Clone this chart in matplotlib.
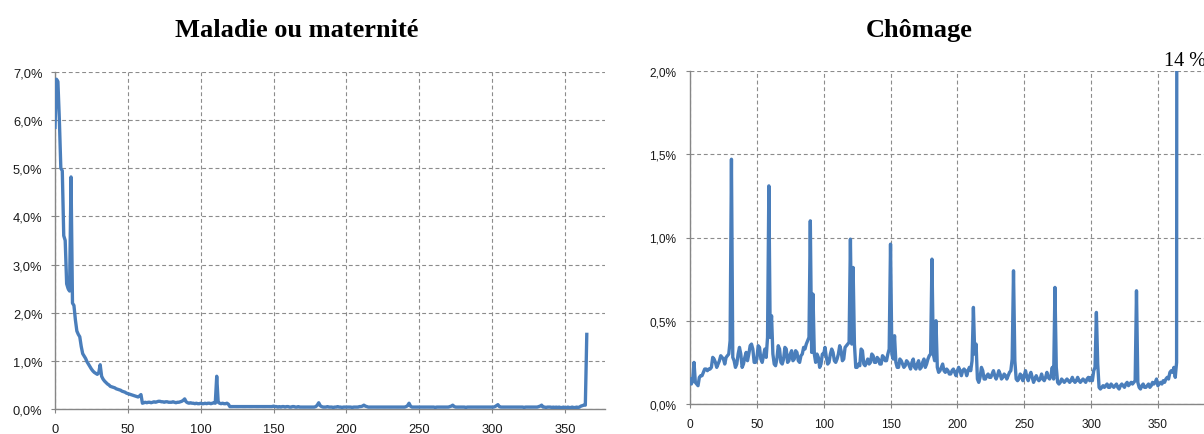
import matplotlib
matplotlib.use("Agg")
import matplotlib.pyplot as plt
from matplotlib.ticker import FuncFormatter

# ---------------- data (daily rates, %) ----------------
titles = ["Maladie ou maternité", "Chômage"]
annot_text = "14 %"

maladie = [
    5.85, 6.85, 6.8, 6.0, 5.0, 4.95, 3.6, 3.5, 2.6, 2.5,
    2.45, 4.82, 2.2, 2.15, 1.85, 1.62, 1.55, 1.5, 1.3, 1.15,
    1.1, 1.05, 0.98, 0.93, 0.88, 0.83, 0.79, 0.76, 0.74, 0.72,
    0.75, 0.92, 0.68, 0.62, 0.58, 0.55, 0.52, 0.5, 0.47, 0.46,
    0.45, 0.44, 0.42, 0.41, 0.4, 0.39, 0.37, 0.36, 0.35, 0.33,
    0.32, 0.31, 0.3, 0.29, 0.28, 0.27, 0.26, 0.25, 0.27, 0.3,
    0.12, 0.13, 0.14, 0.13, 0.14, 0.14, 0.13, 0.14, 0.15, 0.14,
    0.15, 0.16, 0.16, 0.15, 0.15, 0.14, 0.15, 0.15, 0.14, 0.14,
    0.14, 0.15, 0.14, 0.13, 0.14, 0.14, 0.15, 0.16, 0.18, 0.21,
    0.15, 0.13, 0.12, 0.13, 0.12, 0.12, 0.11, 0.12, 0.11, 0.11,
    0.12, 0.11, 0.11, 0.12, 0.11, 0.12, 0.12, 0.11, 0.12, 0.13,
    0.12, 0.68, 0.14, 0.12, 0.11, 0.12, 0.11, 0.11, 0.12, 0.1,
    0.05, 0.05, 0.05, 0.05, 0.05, 0.05, 0.05, 0.05, 0.05, 0.05,
    0.05, 0.05, 0.05, 0.05, 0.05, 0.05, 0.05, 0.05, 0.05, 0.05,
    0.05, 0.05, 0.05, 0.05, 0.05, 0.05, 0.05, 0.05, 0.05, 0.05,
    0.06, 0.05, 0.05, 0.04, 0.05, 0.04, 0.05, 0.05, 0.04, 0.05,
    0.05, 0.04, 0.04, 0.05, 0.05, 0.04, 0.04, 0.05, 0.04, 0.04,
    0.04, 0.04, 0.04, 0.04, 0.04, 0.04, 0.04, 0.04, 0.04, 0.05,
    0.08, 0.13, 0.07, 0.05, 0.04, 0.04, 0.04, 0.05, 0.04, 0.04,
    0.04, 0.03, 0.04, 0.04, 0.05, 0.04, 0.04, 0.03, 0.04, 0.04,
    0.04, 0.04, 0.04, 0.04, 0.03, 0.04, 0.04, 0.04, 0.04, 0.05,
    0.05, 0.06, 0.08, 0.06, 0.05, 0.04, 0.04, 0.04, 0.04, 0.04,
    0.04, 0.04, 0.04, 0.04, 0.04, 0.04, 0.04, 0.04, 0.04, 0.04,
    0.04, 0.04, 0.04, 0.04, 0.04, 0.04, 0.04, 0.04, 0.04, 0.04,
    0.04, 0.05, 0.07, 0.12, 0.06, 0.04, 0.04, 0.04, 0.04, 0.04,
    0.04, 0.04, 0.04, 0.04, 0.04, 0.04, 0.04, 0.04, 0.04, 0.04,
    0.04, 0.03, 0.04, 0.04, 0.04, 0.04, 0.04, 0.04, 0.04, 0.04,
    0.04, 0.05, 0.06, 0.08, 0.05, 0.04, 0.04, 0.04, 0.04, 0.04,
    0.04, 0.04, 0.03, 0.04, 0.04, 0.04, 0.04, 0.04, 0.04, 0.04,
    0.04, 0.04, 0.04, 0.04, 0.04, 0.04, 0.04, 0.04, 0.04, 0.04,
    0.04, 0.04, 0.05, 0.07, 0.09, 0.05, 0.04, 0.04, 0.04, 0.04,
    0.04, 0.04, 0.04, 0.04, 0.04, 0.04, 0.04, 0.04, 0.04, 0.04,
    0.04, 0.04, 0.03, 0.04, 0.04, 0.04, 0.04, 0.04, 0.04, 0.04,
    0.04, 0.04, 0.05, 0.06, 0.08, 0.04, 0.04, 0.03, 0.04, 0.04,
    0.04, 0.03, 0.04, 0.03, 0.04, 0.03, 0.04, 0.03, 0.03, 0.04,
    0.03, 0.03, 0.04, 0.03, 0.03, 0.04, 0.03, 0.03, 0.04, 0.03,
    0.04, 0.06, 0.07, 0.08, 0.08, 1.55,
]

chomage = [
    0.15, 0.12, 0.14, 0.25, 0.13, 0.12, 0.11, 0.16, 0.17, 0.17,
    0.19, 0.21, 0.21, 0.2, 0.21, 0.21, 0.22, 0.28, 0.27, 0.25,
    0.22, 0.24, 0.26, 0.29, 0.28, 0.27, 0.24, 0.28, 0.29, 0.3,
    0.38, 1.47, 0.28, 0.26, 0.22, 0.24, 0.3, 0.34, 0.3, 0.22,
    0.24, 0.28, 0.31, 0.26, 0.3, 0.35, 0.36, 0.33, 0.25, 0.25,
    0.27, 0.35, 0.34, 0.27, 0.25, 0.29, 0.33, 0.28, 0.4, 1.31,
    0.4, 0.53, 0.3, 0.24, 0.23, 0.27, 0.35, 0.33, 0.25, 0.24,
    0.27, 0.34, 0.33, 0.25, 0.26, 0.3, 0.32, 0.26, 0.27, 0.32,
    0.31, 0.26, 0.25, 0.29, 0.3, 0.34, 0.33, 0.36, 0.38, 0.4,
    1.1, 0.31, 0.66, 0.3, 0.25, 0.3, 0.28, 0.22, 0.24, 0.3,
    0.3, 0.34, 0.28, 0.24, 0.25, 0.3, 0.33, 0.31, 0.26, 0.25,
    0.27, 0.3, 0.35, 0.32, 0.26, 0.27, 0.34, 0.35, 0.36, 0.37,
    0.99, 0.36, 0.82, 0.36, 0.22, 0.22, 0.24, 0.23, 0.33, 0.32,
    0.24, 0.23, 0.25, 0.27, 0.24, 0.25, 0.3, 0.29, 0.25, 0.25,
    0.28, 0.27, 0.24, 0.24, 0.29, 0.28, 0.26, 0.26, 0.3, 0.33,
    0.96, 0.3, 0.27, 0.41, 0.25, 0.22, 0.22, 0.27, 0.26, 0.24,
    0.22, 0.23, 0.26, 0.25, 0.23, 0.21, 0.25, 0.27, 0.22, 0.21,
    0.24, 0.26, 0.21, 0.22, 0.25, 0.27, 0.22, 0.24, 0.27, 0.29,
    0.3, 0.87, 0.3, 0.26, 0.5, 0.22, 0.19, 0.2, 0.22, 0.24,
    0.2, 0.19, 0.21, 0.2, 0.18, 0.18, 0.2, 0.21, 0.19, 0.17,
    0.2, 0.22, 0.2, 0.17, 0.2, 0.21, 0.2, 0.17, 0.2, 0.22,
    0.2, 0.26, 0.58, 0.3, 0.36, 0.15, 0.13, 0.16, 0.22, 0.2,
    0.15, 0.15, 0.17, 0.18, 0.16, 0.16, 0.18, 0.2, 0.17, 0.15,
    0.17, 0.2, 0.18, 0.15, 0.16, 0.18, 0.17, 0.15, 0.17, 0.19,
    0.2, 0.27, 0.8, 0.26, 0.15, 0.14, 0.15, 0.18, 0.17, 0.14,
    0.17, 0.2, 0.16, 0.14, 0.17, 0.19, 0.16, 0.13, 0.15, 0.17,
    0.15, 0.14, 0.15, 0.18, 0.15, 0.14, 0.16, 0.19, 0.16, 0.15,
    0.17, 0.22, 0.15, 0.7, 0.22, 0.13, 0.12, 0.13, 0.15, 0.14,
    0.13, 0.14, 0.15, 0.14, 0.13, 0.14, 0.16, 0.14, 0.13, 0.14,
    0.16, 0.14, 0.13, 0.14, 0.15, 0.14, 0.13, 0.15, 0.16, 0.14,
    0.16, 0.14, 0.2, 0.22, 0.55, 0.24, 0.1, 0.09, 0.1, 0.11,
    0.1, 0.11, 0.12, 0.1, 0.1, 0.12, 0.11, 0.1, 0.11, 0.12,
    0.1, 0.09, 0.11, 0.12, 0.11, 0.1, 0.12, 0.13, 0.11, 0.12,
    0.13, 0.12, 0.13, 0.14, 0.68, 0.13, 0.1, 0.09, 0.11, 0.12,
    0.1, 0.1, 0.11, 0.12, 0.1, 0.11, 0.13, 0.12, 0.13, 0.15,
    0.11, 0.12, 0.13, 0.12, 0.14, 0.13, 0.15, 0.16, 0.15, 0.19,
    0.2, 0.19, 0.22, 0.16, 0.25, 14.0,
]

x_ticks = [0, 50, 100, 150, 200, 250, 300, 350]
y_ticks_left = [0, 1, 2, 3, 4, 5, 6, 7]
y_ticks_right = [0, 0.5, 1.0, 1.5, 2.0]

# ---------------- style ----------------
LINE = "#4A7EBB"
GRID = "#8C8C8C"
AXC = "#868686"
W, H = 1204, 435

fig = plt.figure(figsize=(W / 100, H / 100), dpi=100)

ax1 = fig.add_axes([55 / W, 1 - 410 / H, (605 - 55) / W, (410 - 73) / H])
ax2 = fig.add_axes([690 / W, 1 - 405 / H, (1204 - 690) / W, (405 - 72) / H])


def fmt1(v, pos):
    return f"{v:.1f}%".replace(".", ",")


for ax, data, yt, ymax, xmax, lsize, ypad in [
    (ax1, maladie, y_ticks_left, 7.0, 377.5, 9.3, 6),
    (ax2, chomage, y_ticks_right, 2.0, 384.5, 8.6, 7),
]:
    days = list(range(len(data)))
    ax.plot(days, data, color=LINE, lw=2.4, solid_joinstyle="round", zorder=3)
    ax.set_xlim(0, xmax)
    ax.set_ylim(0, ymax)
    ax.set_xticks(x_ticks)
    ax.set_yticks(yt)
    ax.yaxis.set_major_formatter(FuncFormatter(fmt1))
    for s in ["top", "right"]:
        ax.spines[s].set_visible(False)
    for s in ["left", "bottom"]:
        ax.spines[s].set_color(AXC)
        ax.spines[s].set_linewidth(1.0)
    ax.grid(True, color=GRID, linestyle=(0, (3.5, 2.5)), linewidth=0.8)
    ax.set_axisbelow(True)
    ax.tick_params(axis="both", direction="out", length=3, width=0.8,
                   color=AXC, labelsize=lsize, labelcolor="#1a1a1a")
    ax.tick_params(axis="y", pad=ypad)
    ax.tick_params(axis="x", pad=7)
    for lab in ax.get_xticklabels() + ax.get_yticklabels():
        lab.set_family("Liberation Sans")

fig.text(297 / W, 1 - 36.7 / H, titles[0], ha="center", va="baseline",
         fontfamily="Liberation Serif", fontweight="bold", fontsize=19)
fig.text(919.5 / W, 1 - 36.7 / H, titles[1], ha="center", va="baseline",
         fontfamily="Liberation Serif", fontweight="bold", fontsize=19)

ax2.annotate(annot_text, xy=(365, 2.0), xytext=(5, 1), textcoords="offset points",
             ha="center", va="bottom", fontfamily="Liberation Serif",
             fontsize=14.5, annotation_clip=False)

fig.savefig("out.png", dpi=100)
